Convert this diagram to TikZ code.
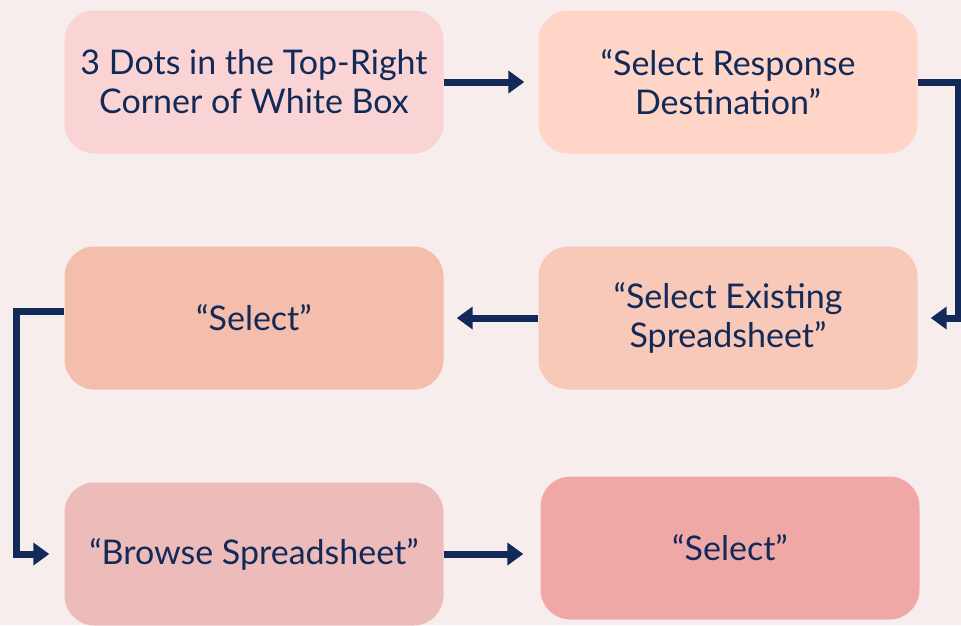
\documentclass[tikz,border=0pt]{standalone}
\usepackage{fontspec}
\setmainfont{Lato}
\usetikzlibrary{arrows.meta}
\definecolor{hintergrund}{RGB}{246,237,236}
\definecolor{navy}{RGB}{18,42,88}
\definecolor{rosa}{RGB}{250,212,212}
\definecolor{pfirsich}{RGB}{255,213,200}
\definecolor{lachs}{RGB}{244,189,172}
\definecolor{apricot}{RGB}{248,200,185}
\definecolor{altrosa}{RGB}{238,187,187}
\definecolor{koralle}{RGB}{240,168,166}
\begin{document}
\begin{tikzpicture}[x=1pt, y=-1pt, node distance=474pt, auto,
		box/.style={rectangle, rounded corners=30pt, minimum width=379pt, minimum height=143pt, align=center, text=navy, font=\fontsize{34}{39}\selectfont},
		pfeil/.style={draw=navy, line width=7pt, -{Triangle[length=16pt,width=22pt]}}]
		\fill[hintergrund] (0,0) rectangle (961,625);
		\useasboundingbox (0,0) rectangle (961,625);
		
		\node (dots) [box, fill=rosa] at (254,82) {3 Dots in the Top-Right\\Corner of White Box};
		\node (ziel) [right of=dots, box, fill=pfirsich] {``Select Response\\Destination''};
		\node (existing) [below of=ziel, box, fill=apricot, node distance=236pt] {``Select Existing\\Spreadsheet''};
		\node (select) [left of=existing, box, fill=lachs] {``Select''};
		\node (browse) [below of=select, box, fill=altrosa, node distance=236pt] {``Browse Spreadsheet''};
		\node (fertig) [right of=browse, box, fill=koralle, yshift=6pt, xshift=2pt] {``Select''};
		
		\draw[pfeil, shorten >=14pt] (dots) -- (ziel);
		\draw[pfeil, shorten >=13pt] (ziel.east) -- ++(41,0) |- (existing.east);
		\draw[pfeil, shorten >=13pt] (existing) -- (select);
		\draw[pfeil, shorten >=15pt] ([yshift=7pt]select.west) -- ++(-48,0) |- (browse.west);
		\draw[pfeil, shorten >=17pt] (browse) -- (browse -| fertig.west);
	\end{tikzpicture}
\end{document}
